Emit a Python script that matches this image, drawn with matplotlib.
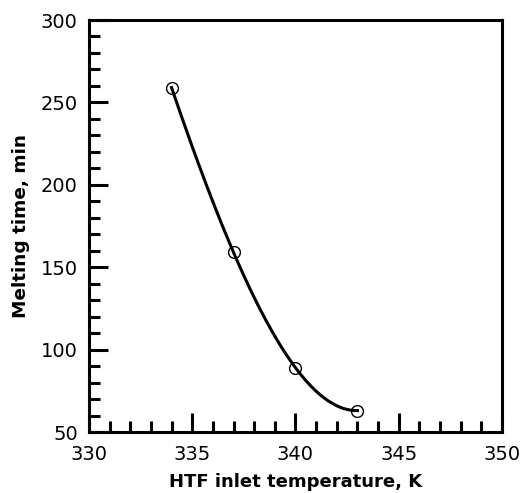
import numpy as np
import matplotlib
matplotlib.use('Agg')
import matplotlib.pyplot as plt
from matplotlib.ticker import MultipleLocator

plt.rcParams['font.family'] = ['DejaVu Sans']

# data
temp = [334, 337, 340, 343]
melt_time = [259, 159, 89, 63]

# smooth trend line through the measured points (cubic fit)
coef = np.polyfit(temp, melt_time, 3)
xs = np.linspace(temp[0], temp[-1], 200)
ys = np.polyval(coef, xs)

fig = plt.figure(figsize=(5.23, 4.93), dpi=100)
ax = fig.add_axes([0.170, 0.1237, 0.790, 0.8357])

ax.plot(xs, ys, color='black', lw=2.2)
ax.plot(temp, melt_time, 'o', mfc='none', mec='black', ms=8.5, mew=1.0)

ax.set_xlim(330, 350)
ax.set_ylim(50, 300)
ax.xaxis.set_major_locator(MultipleLocator(5))
ax.xaxis.set_minor_locator(MultipleLocator(1))
ax.yaxis.set_major_locator(MultipleLocator(50))
ax.yaxis.set_minor_locator(MultipleLocator(10))

for s in ax.spines.values():
    s.set_linewidth(2.2)
ax.tick_params(which='both', direction='in', top=False, right=False, labelsize=14, width=2.2)
ax.tick_params(which='major', length=14)
ax.tick_params(axis='y', pad=8)
ax.tick_params(axis='x', pad=9)
ax.tick_params(which='minor', length=8)

ax.set_xlabel('HTF inlet temperature, K', fontsize=13, fontweight='bold', labelpad=7)
ax.set_ylabel('Melting time, min', fontsize=13.3, fontweight='bold', labelpad=8)

fig.savefig('out.png', dpi=100)
